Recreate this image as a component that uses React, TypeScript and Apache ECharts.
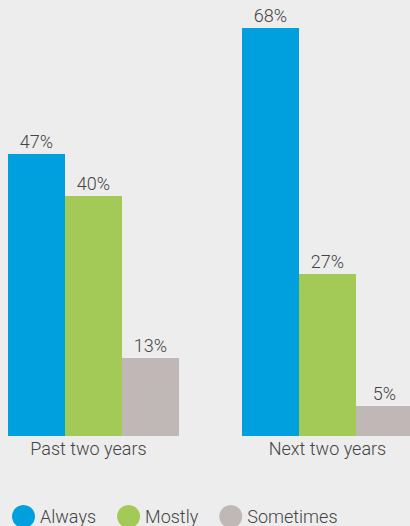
import React, { useEffect, useRef } from "react";
import * as echarts from "echarts";

const categories = ["Past two years", "Next two years"];
const seriesNames = ["Always", "Mostly", "Sometimes"];
const always = [47, 68];
const mostly = [40, 27];
const sometimes = [13, 5];
const colors = ["#009fdd", "#a3c956", "#bfb8b7"];

export default function App() {
  const ref = useRef<HTMLDivElement>(null);
  useEffect(() => {
    document.body.style.margin = "0";
    document.body.style.background = "#ededed";
    const chart = echarts.init(ref.current!, null, { renderer: "svg" });
    const font = "Roboto, 'Noto Sans', sans-serif";
    const values = [always, mostly, sometimes];
    chart.setOption({
      animation: false,
      backgroundColor: "#ededed",
      textStyle: { fontFamily: font },
      grid: { left: 93.5, right: 82.5, top: 16, bottom: 90 },
      xAxis: {
        type: "category",
        data: categories,
        boundaryGap: false,
        axisLine: { show: false },
        axisTick: { show: false },
        axisLabel: {
          margin: 3,
          fontSize: 18,
          fontWeight: 300,
          color: "#444",
          fontFamily: font,
          formatter: (v: string, i: number) => (i === 0 ? "{a|" + v + "}" : "{b|" + v + "}"),
          rich: {
            a: { fontSize: 18, fontWeight: 300, color: "#444", fontFamily: font, padding: [0, 10, 0, 0] },
            b: { fontSize: 18, fontWeight: 300, color: "#444", fontFamily: font },
          },
        },
      },
      yAxis: { type: "value", min: 0, max: 70, show: false, splitLine: { show: false } },
      legend: {
        top: 505,
        left: 12,
        padding: 0,
        icon: "circle",
        itemWidth: 23,
        itemHeight: 23,
        itemGap: 21,
        textStyle: { fontSize: 18, fontWeight: 300, color: "#444", fontFamily: font },
        data: seriesNames,
      },
      series: seriesNames.map((name, i) => ({
        name,
        type: "bar",
        data: values[i],
        barWidth: 57,
        barGap: "0%",
        clip: false,
        itemStyle: { color: colors[i] },
        label: {
          show: true,
          position: "top",
          distance: 4,
          formatter: "{c}%",
          fontSize: 18,
          fontWeight: 300,
          color: "#444",
          fontFamily: font,
        },
      })),
    });
    return () => chart.dispose();
  }, []);
  return <div ref={ref} style={{ width: 410, height: 526 }} />;
}
